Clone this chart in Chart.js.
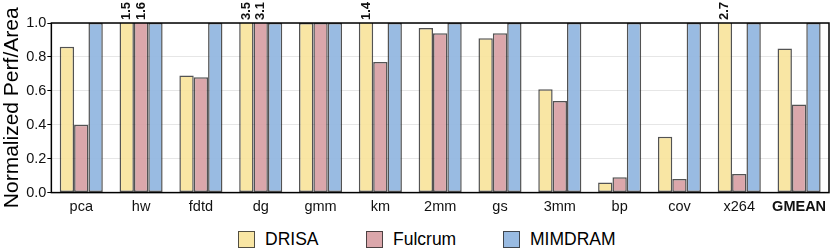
<!DOCTYPE html>
<html lang="en">
<head>
  <meta charset="UTF-8" />
  <title>Normalized Perf/Area</title>
  <script src="https://cdn.jsdelivr.net/npm/chart.js"></script>
  <style>
    body { margin: 0; background: #fff; font-family: 'Liberation Sans', Arial, sans-serif; }
    #wrap { position: relative; width: 830px; height: 248px; overflow: hidden; }
    .legend { position: absolute; top: 230px; left: 0; width: 830px; height: 18px; }
    .item { position: absolute; top: 0; display: flex; align-items: center; font-size: 17.5px; color: #000; line-height: 18px; }
    .box { width: 15px; height: 15px; border: 1.5px solid rgba(40,40,40,0.8); margin-right: 10px; }
  </style>
</head>
<body>
  <div id="wrap">
    <canvas id="chart" width="830" height="222"></canvas>
    <div class="legend" id="legend"></div>
  </div>
  <script>
    const categories = ['pca', 'hw', 'fdtd', 'dg', 'gmm', 'km', '2mm', 'gs', '3mm', 'bp', 'cov', 'x264', 'GMEAN'];
    const drisa = [0.86, 1.5, 0.69, 3.5, 1.0, 1.4, 0.97, 0.91, 0.61, 0.06, 0.33, 2.7, 0.85];
    const fulcrum = [0.40, 1.6, 0.68, 3.1, 1.0, 0.77, 0.94, 0.94, 0.54, 0.09, 0.08, 0.11, 0.52];
    const mimdram = [1, 1, 1, 1, 1, 1, 1, 1, 1, 1, 1, 1, 1];
    const yTicks = [0, 0.2, 0.4, 0.6, 0.8, 1.0];
    const seriesNames = ['DRISA', 'Fulcrum', 'MIMDRAM'];
    const colors = ['rgba(248,228,156,0.92)', 'rgba(216,160,164,0.92)', 'rgba(148,183,224,0.95)'];
    const legendX = [238, 366, 503];

    const font = "'Liberation Sans', Arial, sans-serif";

    // frame around the plot + rotated labels for bars that go past 1.0
    const extras = {
      id: 'extras',
      afterDatasetsDraw(chart) {
        const ctx = chart.ctx;
        const a = chart.chartArea;
        const yMax = chart.scales.y.max;
        ctx.save();
        ctx.font = 'bold 13px ' + font;
        ctx.fillStyle = '#111';
        ctx.textAlign = 'left';
        ctx.textBaseline = 'middle';
        chart.data.datasets.forEach((ds, i) => {
          const meta = chart.getDatasetMeta(i);
          ds.data.forEach((v, j) => {
            if (v > yMax) {
              const bar = meta.data[j];
              ctx.save();
              ctx.translate(bar.x, a.top - 3);
              ctx.rotate(-Math.PI / 2);
              ctx.fillText(v.toFixed(1), 0, 0);
              ctx.restore();
            }
          });
        });
        ctx.strokeStyle = '#000';
        ctx.lineWidth = 1.5;
        ctx.strokeRect(a.left, a.top, a.right - a.left, a.bottom - a.top);
        ctx.restore();
      }
    };

    new Chart(document.getElementById('chart').getContext('2d'), {
      type: 'bar',
      data: {
        labels: categories,
        datasets: [
          { label: seriesNames[0], data: drisa, backgroundColor: colors[0] },
          { label: seriesNames[1], data: fulcrum, backgroundColor: colors[1] },
          { label: seriesNames[2], data: mimdram, backgroundColor: colors[2] }
        ]
      },
      options: {
        responsive: false,
        animation: false,
        devicePixelRatio: 1,
        layout: { padding: { top: 23, right: 1, left: 0, bottom: 4 } },
        datasets: {
          bar: {
            categoryPercentage: 0.72,
            barPercentage: 1.0,
            borderColor: 'rgba(40,40,40,0.8)',
            borderWidth: 1.5,
            borderSkipped: false
          }
        },
        plugins: {
          legend: { display: false },
          tooltip: { enabled: false }
        },
        scales: {
          x: {
            grid: { display: false, drawTicks: true, tickLength: 4, tickColor: '#000' },
            border: { display: false },
            ticks: {
              color: '#111',
              padding: 2,
              maxRotation: 0,
              font: ctx => ({ family: font, size: 14.5, weight: categories[ctx.index] === 'GMEAN' ? 'bold' : 'normal' })
            }
          },
          y: {
            min: 0,
            max: 1,
            afterBuildTicks: axis => {
              axis.ticks = [];
              for (let k = 0; k <= 10; k++) axis.ticks.push({ value: k / 10 });
            },
            grid: {
              color: ctx => (ctx.tick && Math.round(ctx.tick.value * 10) % 2 === 0) ? '#e6e6e6' : '#f3f3f3',
              tickColor: ctx => (ctx.tick && Math.round(ctx.tick.value * 10) % 2 === 0) ? '#000' : 'rgba(0,0,0,0)',
              tickLength: 4,
              lineWidth: 1
            },
            border: { display: false },
            ticks: {
              color: '#111',
              padding: 1,
              font: { family: font, size: 14.5 },
              callback: v => {
                const t = yTicks.find(x => Math.abs(x - v) < 1e-6);
                return t === undefined ? '' : t.toFixed(1);
              }
            },
            title: {
              display: true,
              text: 'Normalized Perf/Area',
              color: '#000',
              font: { family: font, size: 21 },
              padding: { top: 0, bottom: 0 }
            }
          }
        }
      },
      plugins: [extras]
    });

    const legend = document.getElementById('legend');
    seriesNames.forEach((name, i) => {
      const item = document.createElement('div');
      item.className = 'item';
      item.style.left = legendX[i] + 'px';
      item.innerHTML = '<span class="box" style="background:' + colors[i] + '"></span>' + name;
      legend.appendChild(item);
    });
  </script>
</body>
</html>
